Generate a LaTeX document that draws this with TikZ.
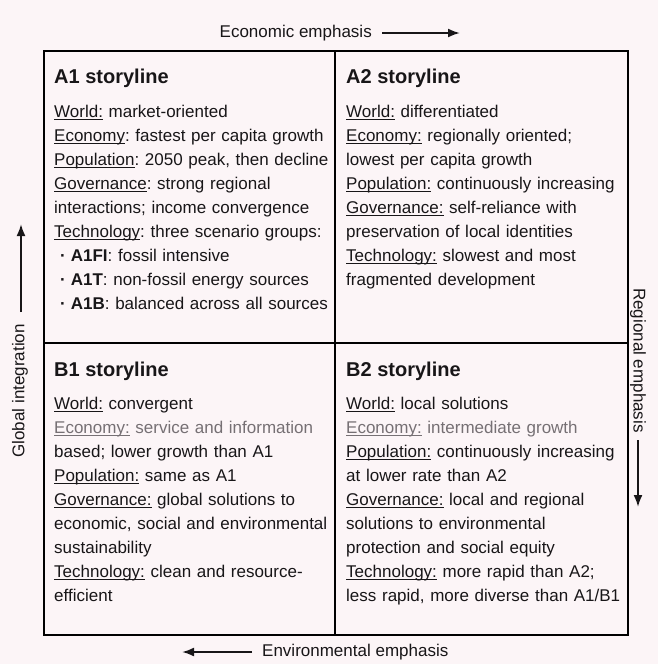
\documentclass[tikz,border=0pt]{standalone}
\usepackage{fontspec}
\setmainfont{Liberation Sans}
\usetikzlibrary{arrows.meta}
\definecolor{paper}{RGB}{252,245,247}
\definecolor{ink}{RGB}{24,22,24}
\definecolor{faded}{RGB}{118,112,116}
\frenchspacing
\newsavebox\kwbox
\newcommand{\kw}[1]{\leavevmode\sbox\kwbox{#1}\rlap{\rule[-2.4pt]{\wd\kwbox}{0.9pt}}\usebox\kwbox}
\newcommand{\groupitem}[1]{\leavevmode\hspace*{6pt}\textbf{·}\hspace{5pt}#1}
\begin{document}
\begin{tikzpicture}[x=1pt,y=-1pt,
	head/.style={anchor=base west,inner sep=0pt,font=\fontsize{20}{24}\selectfont\bfseries,text=ink},
	story/.style={anchor=base west,inner sep=0pt,text width=290pt,align=left,font=\fontsize{17}{24}\selectfont,text=ink},
	axis/.style={inner sep=0pt,font=\fontsize{17}{20}\selectfont,text=ink},
	axisarrow/.style={draw=ink,line width=2pt,-{Latex[length=12pt,width=9pt]}}]
		\path[use as bounding box,fill=paper] (0,0) rectangle (658,664);
		\draw[line width=2pt] (44,51) rectangle (628,635);
		\draw[line width=2pt] (335,51) -- (335,635);
		\draw[line width=2pt] (44,343) -- (628,343);
		\node[head] (a1head) at (54,83.5) {A1 storyline};
		\node[story] (a1text) at (54,117) {\kw{World:} market-oriented\\
			\kw{Economy}: fastest per capita growth\\
			\kw{Population}: 2050 peak, then decline\\
			\kw{Governance}: strong regional\\
			interactions; income convergence\\
			\kw{Technology}: three scenario groups:\\
			\groupitem{\textbf{A1FI}: fossil intensive}\\
			\groupitem{\textbf{A1T}: non-fossil energy sources}\\
			\groupitem{\textbf{A1B}: balanced across all sources}};
		\node[head] (a2head) at (346,83.5) {A2 storyline};
		\node[story] (a2text) at (346,117) {\kw{World:} differentiated\\
			\kw{Economy:} regionally oriented;\\
			lowest per capita growth\\
			\kw{Population:} continuously increasing\\
			\kw{Governance:} self-reliance with\\
			preservation of local identities\\
			\kw{Technology:} slowest and most\\
			fragmented development};
		\node[head] (b1head) at (54,376) {B1 storyline};
		\node[story] (b1text) at (54,409) {\kw{World:} convergent\\
			{\color{faded}\kw{Economy:} service and information}\\
			based; lower growth than A1\\
			\kw{Population:} same as A1\\
			\kw{Governance:} global solutions to\\
			economic, social and environmental\\
			sustainability\\
			\kw{Technology:} clean and resource-\\
			efficient};
		\node[head] (b2head) at (346,376) {B2 storyline};
		\node[story] (b2text) at (346,409) {\kw{World:} local solutions\\
			{\color{faded}\kw{Economy:} intermediate growth}\\
			\kw{Population:} continuously increasing\\
			at lower rate than A2\\
			\kw{Governance:} local and regional\\
			solutions to environmental\\
			protection and social equity\\
			\kw{Technology:} more rapid than A2;\\
			less rapid, more diverse than A1/B1};
		\node[axis,anchor=east] (econ) at (372,33) {Economic emphasis};
		\coordinate (econtail) at (382,33);
		\coordinate (econtip) at (460,33);
		\draw[axisarrow] (econtail) -- (econtip);
		\node[axis,anchor=west] (envir) at (262,652) {Environmental emphasis};
		\coordinate (envirtail) at (252,652);
		\coordinate (envirtip) at (182,652);
		\draw[axisarrow] (envirtail) -- (envirtip);
		\node[axis,anchor=east,rotate=90] (glob) at (20,324) {Global integration};
		\coordinate (globtail) at (21,312);
		\coordinate (globtip) at (21,224);
		\draw[axisarrow] (globtail) -- (globtip);
		\node[axis,anchor=west,rotate=-90] (regio) at (638,288) {Regional emphasis};
		\coordinate (regiotail) at (638,440);
		\coordinate (regiotip) at (638,507);
		\draw[axisarrow] (regiotail) -- (regiotip);
	\end{tikzpicture}
\end{document}
